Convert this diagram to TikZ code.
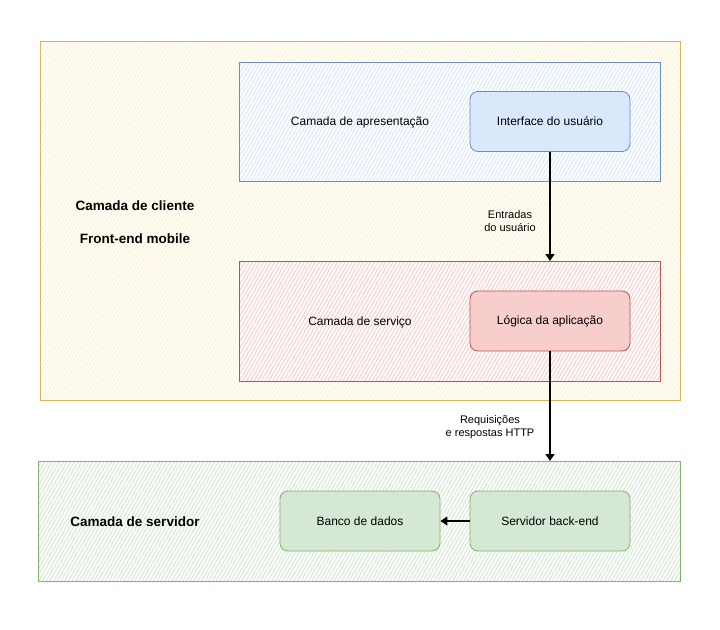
\documentclass[tikz,border=0pt]{standalone}
\usepackage{fontspec}
\setmainfont{Liberation Sans}
\usetikzlibrary{patterns.meta,arrows.meta,positioning}
\definecolor{ystroke}{HTML}{D6B656}
\definecolor{yfill}{HTML}{FFF2CC}
\definecolor{bstroke}{HTML}{6C8EBF}
\definecolor{bfill}{HTML}{DAE8FC}
\definecolor{rstroke}{HTML}{B85450}
\definecolor{rfill}{HTML}{F8CECC}
\definecolor{gstroke}{HTML}{82B366}
\definecolor{gfill}{HTML}{D5E8D4}
\tikzset{
  x=1pt,y=-1pt,
  layer/.style={preaction={fill=white},
    preaction={pattern={Lines[angle=60,distance=3.2pt,line width=1pt]}, pattern color=#1fill},
    draw=#1stroke, line width=1pt},
  compbox/.style={draw=#1stroke, fill=#1fill, rounded corners=8pt, line width=0.8pt,
    minimum width=160pt, minimum height=60pt, inner sep=0pt, font=\fontsize{12}{14}\selectfont},
  lbl/.style={font=\fontsize{12}{14}\selectfont, inner sep=0pt},
  blbl/.style={font=\fontsize{13.5}{16}\selectfont\bfseries, inner sep=0pt},
  elbl/.style={font=\fontsize{11}{13}\selectfont, align=center, inner sep=1pt, fill=none},
  conn/.style={draw=black, line width=1.3pt, -{Triangle[length=7pt,width=9pt]}},
}
\begin{document}
\begin{tikzpicture}
\useasboundingbox (0,0) rectangle (720,629);
% layers
\draw[layer=y] (40,41) rectangle (680,400);
\draw[layer=b] (239,62) rectangle (660,181);
\draw[layer=r] (239,261) rectangle (660,381);
\draw[layer=g] (38,461) rectangle (680,581);
% labels
\node[lbl] (tApres) at (360,122) {Camada de apresentação};
\node[lbl] (tServ) at (360,322) {Camada de serviço};
\node[blbl] (tCli) at (135,206) {Camada de cliente};
\node[blbl] (tFront) at (135,239) {Front-end mobile};
\node[blbl] (tSrv) at (135,522) {Camada de servidor};
% components
\node[compbox=b] (ui) at (550,121.5) {Interface do usuário};
\node[compbox=r] (logic) at (550,321) {Lógica da aplicação};
\node[compbox=g] (db) at (360,521) {Banco de dados};
\node[compbox=g] (backend) at (550,521) {Servidor back-end};
\coordinate (redTop) at (550,261);
\coordinate (greenTop) at (550,461);
% connectors
\draw[conn] (ui.south) -- (redTop);
\draw[conn] (logic.south) -- (greenTop);
\draw[conn] (backend.west) -- (db.east);
% edge labels
\node[elbl] (e1) at (510,221.5) {Entradas\\do usuário};
\node[elbl] (e2) at (490,427.5) {Requisições\\e respostas HTTP};
\end{tikzpicture}
\end{document}
